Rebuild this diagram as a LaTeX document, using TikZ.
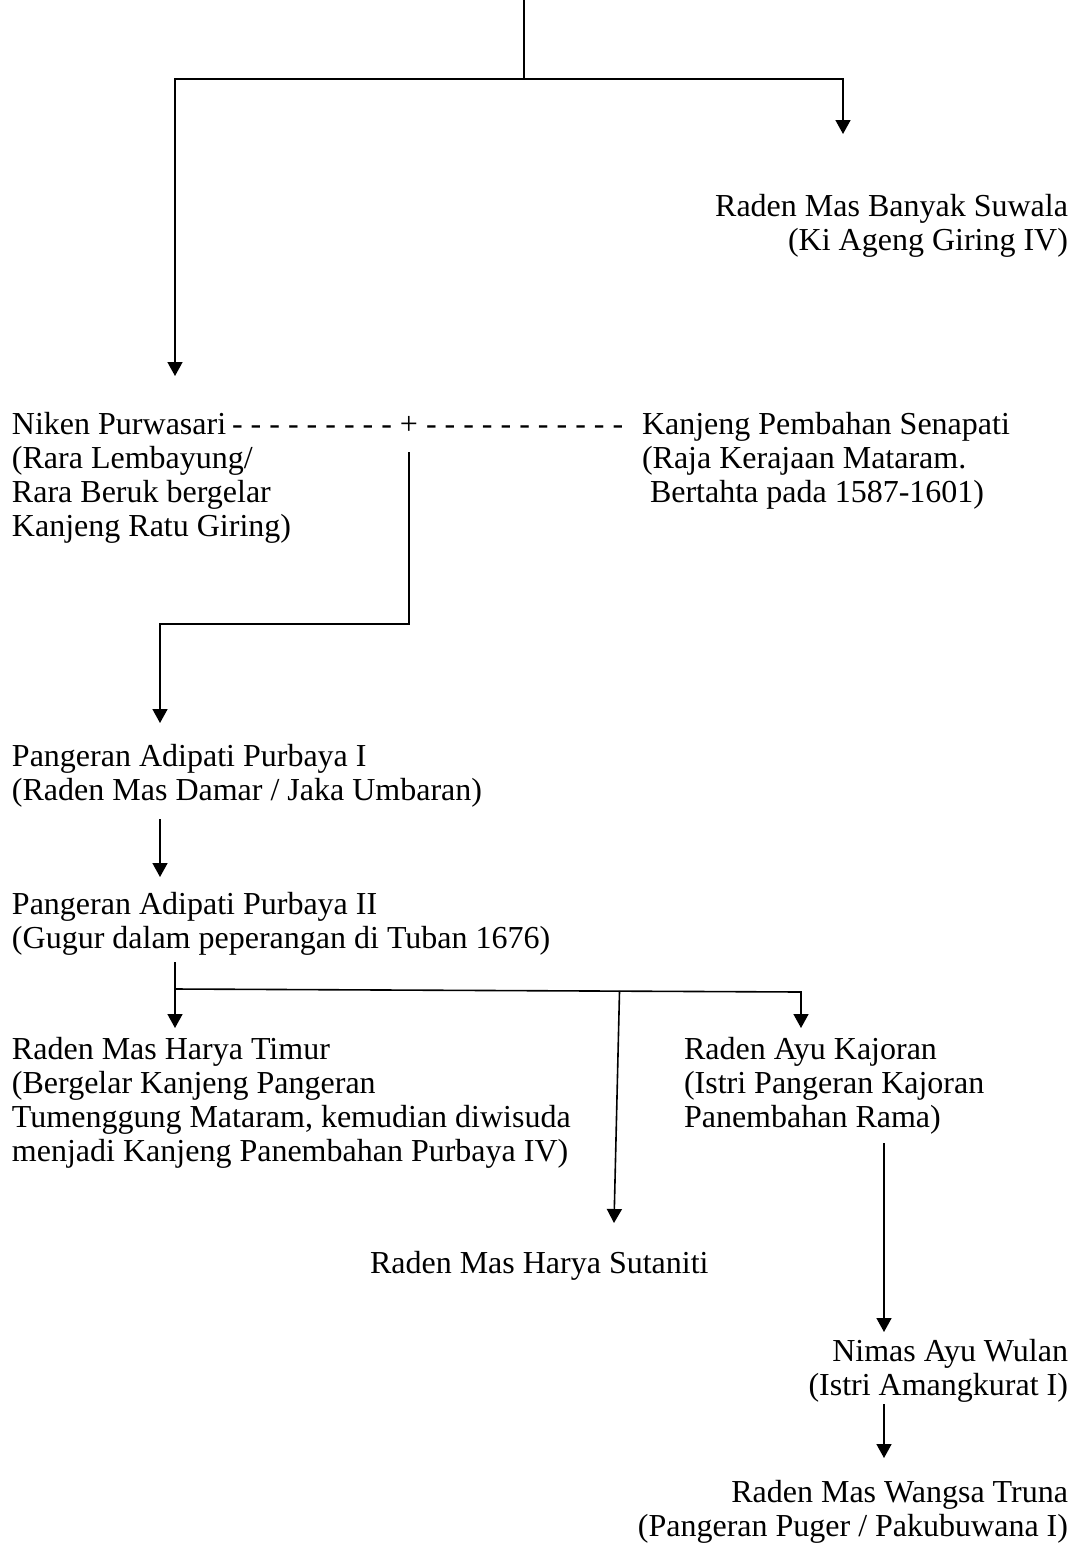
\documentclass[tikz,border=0pt]{standalone}
\usepackage{fontspec}
\setmainfont{Liberation Serif}
\usetikzlibrary{arrows.meta}
\begin{document}
\begin{tikzpicture}[x=1pt,y=-1pt,
  txt/.style={inner sep=0pt, outer sep=0pt, font=\fontsize{32}{34.3}\selectfont},
  lft/.style={txt, align=left, anchor=base west},
  rgt/.style={txt, align=right, anchor=base east},
  wire/.style={line width=1.6pt, line cap=rect, line join=miter},
  tipend/.style={-{Triangle[length=14pt,width=15pt]}},
  tipboth/.style={{Triangle[length=14pt,width=15pt]}-{Triangle[length=14pt,width=15pt]}}]
\useasboundingbox (0,0) rectangle (1075,1545);
% people (anchor = baseline of the last line)
\node[rgt] (suwala) at (1068,250.3) {Raden Mas Banyak Suwala\\(Ki Ageng Giring IV)};
\node[lft] (niken) at (12,536.9) {Niken Purwasari\\(Rara Lembayung/\\Rara Beruk bergelar\\Kanjeng Ratu Giring)};
\node[txt, anchor=base] (plus) at (409,434) {+};
\node[txt, anchor=base east] (dashL) at ([xshift=-8pt]plus.base west) {- - - - - - - - -};
\node[txt, anchor=base west] (dashR) at ([xshift=8pt]plus.base east) {- - - - - - - - - - -};
\node[lft] (senapati) at (642,502.6) {Kanjeng Pembahan Senapati\\(Raja Kerajaan Mataram.\\\hspace*{8pt}Bertahta pada 1587-1601)};
\node[lft] (purbaya1) at (12,800.3) {Pangeran Adipati Purbaya I\\(Raden Mas Damar / Jaka Umbaran)};
\node[lft] (purbaya2) at (12,948.3) {Pangeran Adipati Purbaya II\\(Gugur dalam peperangan di Tuban 1676)};
\node[lft] (timur) at (12,1161.9) {Raden Mas Harya Timur\\(Bergelar Kanjeng Pangeran\\Tumenggung Mataram, kemudian diwisuda\\menjadi Kanjeng Panembahan Purbaya IV)};
\node[lft] (kajoran) at (684,1127.6) {Raden Ayu Kajoran\\(Istri Pangeran Kajoran\\Panembahan Rama)};
\node[lft] (sutaniti) at (370,1273) {Raden Mas Harya Sutaniti};
\node[rgt] (wulan) at (1068,1395.3) {Nimas Ayu Wulan\\(Istri Amangkurat I)};
\node[rgt] (truna) at (1068,1536.3) {Raden Mas Wangsa Truna\\(Pangeran Puger / Pakubuwana I)};
% connector points
\coordinate (root) at (524,0);
\coordinate (jTop) at (524,79);
\coordinate (jL) at (175,79);
\coordinate (jR) at (843,79);
\coordinate (tSuwala) at (843,134);
\coordinate (tNiken) at (175,376);
\coordinate (pDown) at (409,453);
\coordinate (bend) at (409,624);
\coordinate (bendL) at (160,624);
\coordinate (tP1) at (160,723);
\coordinate (sP1) at (160,820);
\coordinate (tP2) at (160,877);
\coordinate (sP2) at (175,963);
\coordinate (hL) at (175,989);
\coordinate (hR) at (801,992);
\coordinate (hM) at (619.5,991.7);
\coordinate (tTimur) at (175,1028);
\coordinate (tKaj) at (801,1028);
\coordinate (tSut) at (614,1223);
\coordinate (sKaj) at (884,1144);
\coordinate (tWulan) at (884,1332);
\coordinate (sWulan) at (884,1405);
\coordinate (tTruna) at (884,1458);
% connectors
\draw[wire] (root) -- (jTop);
\draw[wire, tipboth] (tNiken) -- (jL) -- (jR) -- (tSuwala);
\draw[wire, tipend] (pDown) -- (bend) -- (bendL) -- (tP1);
\draw[wire, tipend] (sP1) -- (tP2);
\draw[wire] (sP2) -- (hL);
\draw[wire, tipboth] (tTimur) -- (hL) -- (hR) -- (tKaj);
\draw[wire, tipend] (hM) -- (tSut);
\draw[wire, tipend] (sKaj) -- (tWulan);
\draw[wire, tipend] (sWulan) -- (tTruna);
\end{tikzpicture}
\end{document}
